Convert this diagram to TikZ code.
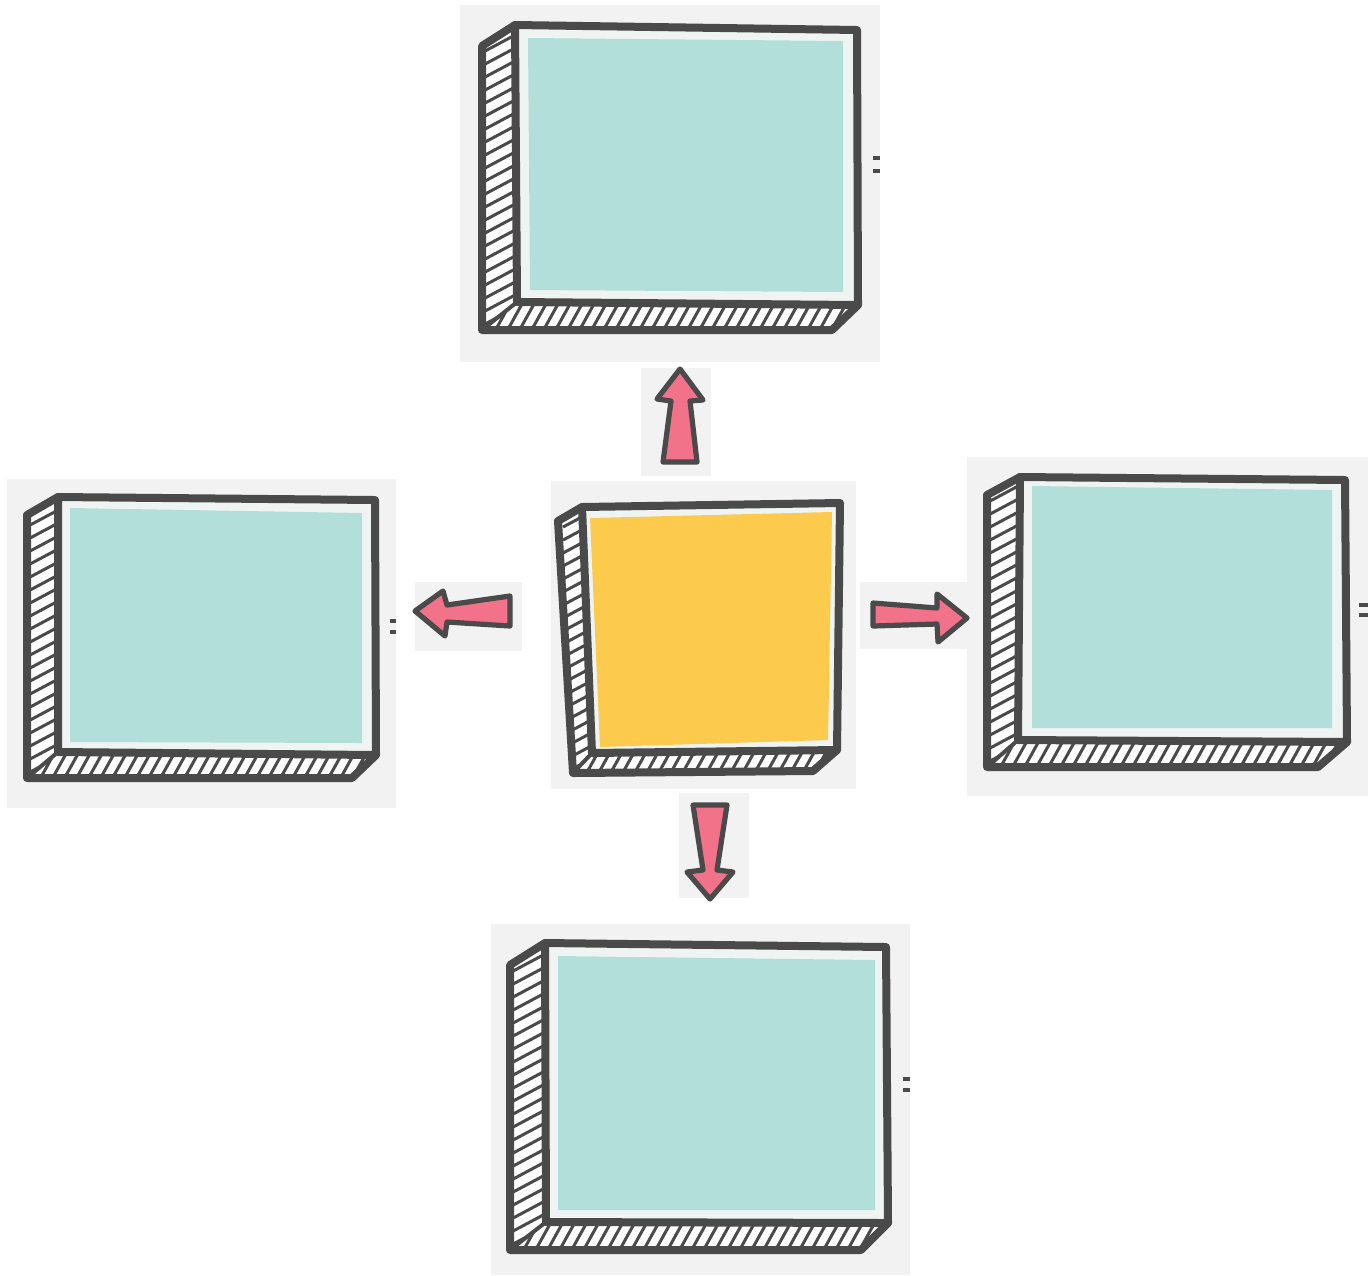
\documentclass[tikz,border=0pt]{standalone}
\usetikzlibrary{calc}
\definecolor{bgpanel}{HTML}{F2F2F2}
\definecolor{ink}{HTML}{4A4A4A}
\definecolor{tealface}{HTML}{B3DFDA}
\definecolor{yellowface}{HTML}{FCCB4E}
\definecolor{framelight}{HTML}{EFF4F3}
\definecolor{arrowpink}{HTML}{F27289}
\tikzset{
  panel/.style={fill=bgpanel, draw=none},
  outline/.style={draw=ink, line width=4pt, line join=round, line cap=round},
  seam/.style={draw=ink, line width=2pt, line cap=round},
  hatchline/.style={draw=ink, line width=1.5pt},
  blockarrow/.style={fill=arrowpink, draw=ink, line width=2.6pt, line join=round},
  tickmark/.style={draw=ink, line width=1.6pt},
}
\newcommand\sketchbox[2]{%
  \fill[white] (#1-A)--(#1-E)--(#1-F)--(#1-G)--(#1-C)--(#1-D)--cycle;
  \begin{scope}
    \clip (#1-A)--(#1-E)--(#1-F)--(#1-D)--cycle;
    \foreach \k in {0,13,...,380} \draw[hatchline, shift={(#1-F)}] (-10,40-\k) -- ++(60,-32);
  \end{scope}
  \begin{scope}
    \clip (#1-D)--(#1-F)--(#1-G)--(#1-C)--cycle;
    \foreach \k in {0,12,...,420} \draw[hatchline, shift={(#1-F)}] (\k-40,10) -- ++(25,-45);
  \end{scope}
  \fill[framelight] (#1-A)--(#1-B)--(#1-C)--(#1-D)--cycle;
  \fill[#2] (#1-P)--(#1-Q)--(#1-R)--(#1-S)--cycle;
  \draw[seam] (#1-D)--(#1-F);
  \draw[outline] (#1-A)--(#1-B)--(#1-C)--(#1-G)--(#1-F)--(#1-E)--cycle;
  \draw[outline] (#1-A)--(#1-D)--(#1-C);
}
\begin{document}
\begin{tikzpicture}[x=0.5pt,y=-0.5pt]
\useasboundingbox[fill=white] (0,0) rectangle (1368,1275);

% light panels behind each element
\fill[panel] (460,5) rectangle (880,362);
\fill[panel] (641,368) rectangle (711,476);
\fill[panel] (7,479) rectangle (396,808);
\fill[panel] (415,582) rectangle (522,651);
\fill[panel] (551,481) rectangle (856,789);
\fill[panel] (860,582) rectangle (968,649);
\fill[panel] (967,457) rectangle (1368,796);
\fill[panel] (679,793) rectangle (749,898);
\fill[panel] (491,924) rectangle (910,1275);

% top box
\coordinate (t-A) at (515,25);  \coordinate (t-B) at (857,30);
\coordinate (t-C) at (858,305); \coordinate (t-D) at (517,302);
\coordinate (t-E) at (482,46);  \coordinate (t-F) at (482,330);
\coordinate (t-G) at (832,330);
\coordinate (t-P) at (528,38);  \coordinate (t-Q) at (843,41);
\coordinate (t-R) at (843,292); \coordinate (t-S) at (530,290);
\sketchbox{t}{tealface}

% left box
\coordinate (l-A) at (58,497);  \coordinate (l-B) at (375,500);
\coordinate (l-C) at (376,755); \coordinate (l-D) at (58,752);
\coordinate (l-E) at (27,515);  \coordinate (l-F) at (27,778);
\coordinate (l-G) at (352,778);
\coordinate (l-P) at (70,508);  \coordinate (l-Q) at (362,513);
\coordinate (l-R) at (362,743); \coordinate (l-S) at (70,742);
\sketchbox{l}{tealface}

% right box
\coordinate (r-A) at (1020,477); \coordinate (r-B) at (1345,480);
\coordinate (r-C) at (1347,742); \coordinate (r-D) at (1018,740);
\coordinate (r-E) at (987,495);  \coordinate (r-F) at (987,767);
\coordinate (r-G) at (1318,767);
\coordinate (r-P) at (1032,486); \coordinate (r-Q) at (1332,490);
\coordinate (r-R) at (1332,728); \coordinate (r-S) at (1032,728);
\sketchbox{r}{tealface}

% bottom box
\coordinate (b-A) at (545,943);  \coordinate (b-B) at (886,947);
\coordinate (b-C) at (888,1223); \coordinate (b-D) at (546,1222);
\coordinate (b-E) at (510,965);  \coordinate (b-F) at (510,1250);
\coordinate (b-G) at (861,1250);
\coordinate (b-P) at (558,956);  \coordinate (b-Q) at (875,960);
\coordinate (b-R) at (875,1210); \coordinate (b-S) at (558,1210);
\sketchbox{b}{tealface}

% centre box
\coordinate (c-A) at (582,507);  \coordinate (c-B) at (840,503);
\coordinate (c-C) at (837,750);  \coordinate (c-D) at (592,753);
\coordinate (c-E) at (558,521);  \coordinate (c-F) at (573,773);
\coordinate (c-G) at (813,771);
\coordinate (c-P) at (590,518);  \coordinate (c-Q) at (832,512);
\coordinate (c-R) at (828,740);  \coordinate (c-S) at (600,747);
\sketchbox{c}{yellowface}

% arrows
\coordinate (up-tip) at (680,369);
\draw[blockarrow] (up-tip) -- (703,400) -- (690,401) -- (697,462) -- (663,462) -- (671,401) -- (657,399) -- cycle;
\coordinate (left-tip) at (415,611);
\draw[blockarrow] (left-tip) -- (443,591) -- (447,605) -- (510,596) -- (510,626) -- (447,622) -- (445,636) -- cycle;
\coordinate (right-tip) at (967,618);
\draw[blockarrow] (873,603) -- (937,608) -- (937,594) -- (right-tip) -- (938,642) -- (937,624) -- (873,626) -- cycle;
\coordinate (down-tip) at (710,899);
\draw[blockarrow] (693,805) -- (727,805) -- (717,870) -- (733,872) -- (down-tip) -- (687,872) -- (703,870) -- cycle;

% small marks beside the boxes
\draw[tickmark] (873,158) -- (880,158);  \draw[tickmark] (873,171) -- (880,171);
\draw[tickmark] (390,621) -- (396,621);  \draw[tickmark] (390,632) -- (396,632);
\draw[tickmark] (1359,605) -- (1368,605); \draw[tickmark] (1359,615) -- (1368,615);
\draw[tickmark] (903,1079) -- (910,1079); \draw[tickmark] (903,1090) -- (910,1090);
\end{tikzpicture}
\end{document}
